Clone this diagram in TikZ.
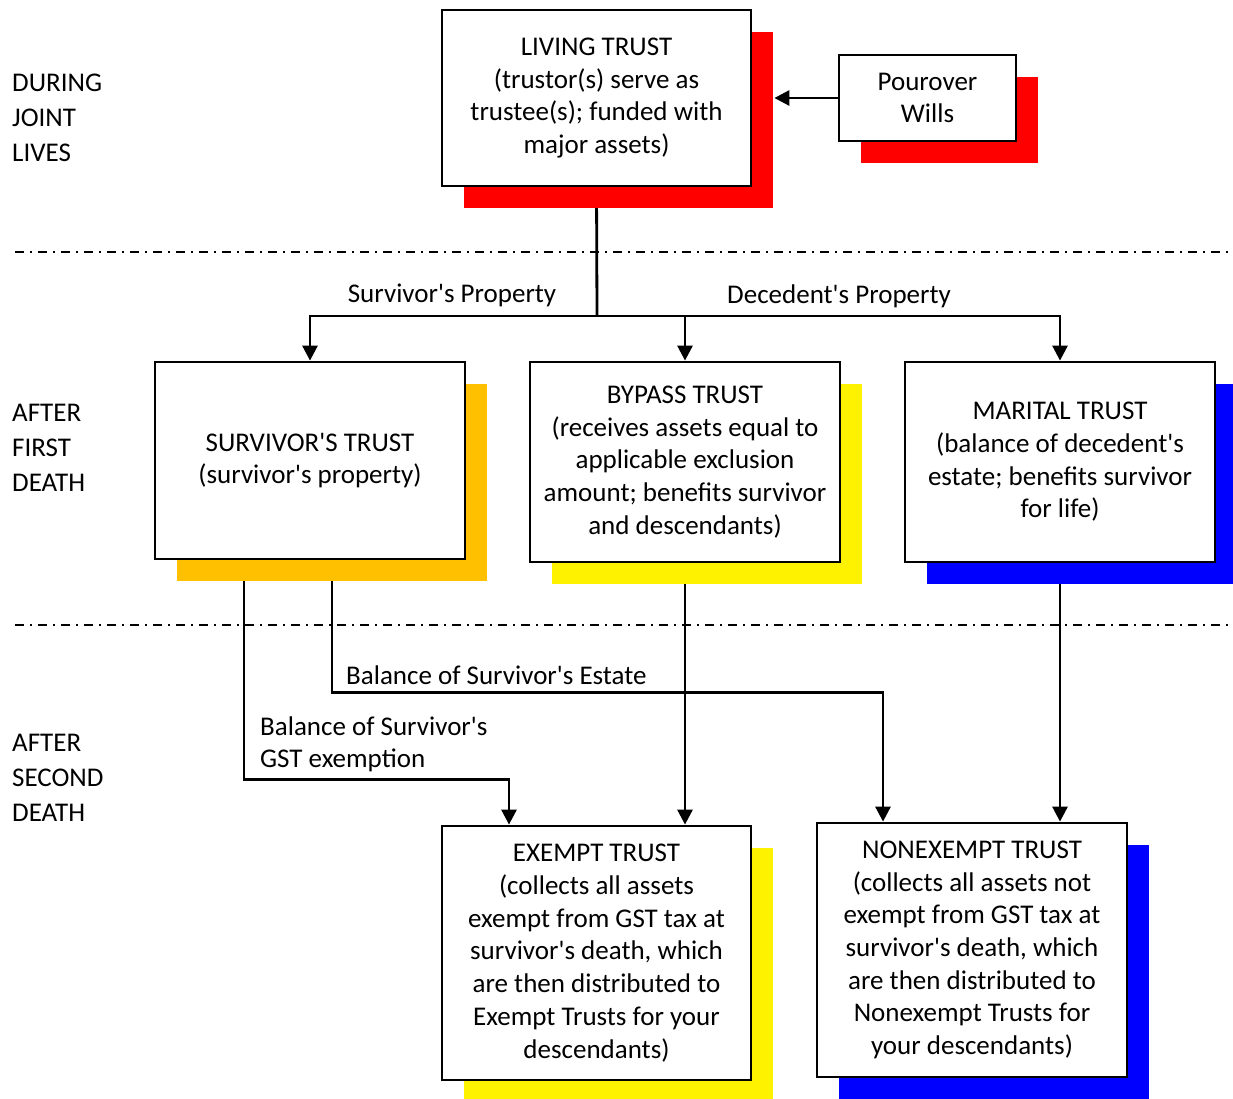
\documentclass[tikz,border=0pt]{standalone}
\usepackage{fontspec}
\setmainfont{Carlito}[Ligatures=TeXOff]
\usetikzlibrary{arrows.meta,backgrounds}

\definecolor{amber}{RGB}{255,192,0}

\tikzset{
  trust/.style={draw, line width=2.8pt, fill=white, align=center, inner sep=0pt,
    font=\fontsize{27}{32.7}\selectfont,
    preaction={fill=#1, draw=none, transform canvas={shift={(22pt,-22pt)}}}},
  phase/.style={anchor=west, align=left, inner sep=0pt, font=\fontsize{27}{35}\selectfont},
  lbl/.style={inner sep=0pt, align=left, font=\fontsize{27}{32}\selectfont},
  flow/.style={line width=2.8pt, -{Triangle[width=15pt,length=15pt]}},
  phaseline/.style={line width=1.3pt, dash pattern=on 9pt off 6pt on 2pt off 6pt}
}

\begin{document}
\begin{tikzpicture}[x=1pt,y=-1pt]
\useasboundingbox (0,0) rectangle (1233,1099);

\node[phase] (jl) at (12,118) {DURING\\JOINT\\LIVES};
\node[phase] (fd) at (12,448) {AFTER\\FIRST\\DEATH};
\node[phase] (sd) at (12,778) {AFTER\\SECOND\\DEATH};

\draw[phaseline] (15,252) -- (1233,252);
\draw[phaseline] (15,625) -- (1228,625);

\node[trust=red, minimum width=309pt, minimum height=176pt] (lt) at (596.5,98)
  {LIVING TRUST\\(trustor(s) serve as\\trustee(s); funded with\\major assets)};
\node[trust=red, minimum width=177pt, minimum height=86pt] (pw) at (927.5,98)
  {Pourover\\Wills};
\node[trust=amber, minimum width=310pt, minimum height=197pt] (st) at (310,460.5)
  {SURVIVOR'S TRUST\\(survivor's property)};
\node[trust=yellow, minimum width=310pt, minimum height=200pt] (bt) at (685,462)
  {BYPASS TRUST\\(receives assets equal to\\applicable exclusion\\amount; benefits survivor\\and descendants)};
\node[trust=blue, minimum width=310pt, minimum height=200pt] (mt) at (1060,462)
  {MARITAL TRUST\\(balance of decedent's\\estate; benefits survivor\\for life)};
\node[trust=yellow, minimum width=309pt, minimum height=254pt] (et) at (596.5,953)
  {EXEMPT TRUST\\(collects all assets\\exempt from GST tax at\\survivor's death, which\\are then distributed to\\Exempt Trusts for your\\descendants)};
\node[trust=blue, minimum width=310pt, minimum height=254pt] (nt) at (972,950)
  {NONEXEMPT TRUST\\(collects all assets not\\exempt from GST tax at\\survivor's death, which\\are then distributed to\\Nonexempt Trusts for\\your descendants)};

\node[lbl] (sp) at (452,295) {Survivor's Property};
\node[lbl] (dp) at (839,296) {Decedent's Property};
\node[lbl, anchor=west] (bse) at (346,675) {Balance of Survivor's Estate};
\node[lbl, anchor=west] (bgst) at (260,744) {Balance of Survivor's\\GST exemption};

\coordinate (split) at (597,316);

\begin{pgfonlayer}{background}
\draw[flow] (pw.west) -- ([xshift=22pt]lt.east);
\draw[line width=2.8pt] (lt.south) -- (split);
\draw[flow] (split) -| (st.north);
\draw[flow] (split) -| (bt.north);
\draw[flow] (split) -| (mt.north);
\draw[flow] ([xshift=-66pt]st.south) -- ++(0,219) -| ([xshift=-87.5pt]et.north);
\draw[flow] ([xshift=22pt]st.south) -- ++(0,132) -| ([xshift=-89pt]nt.north);
\draw[flow] (bt.south) -- (bt.south |- et.north);
\draw[flow] (mt.south) -- (mt.south |- nt.north);
\end{pgfonlayer}
\end{tikzpicture}
\end{document}
